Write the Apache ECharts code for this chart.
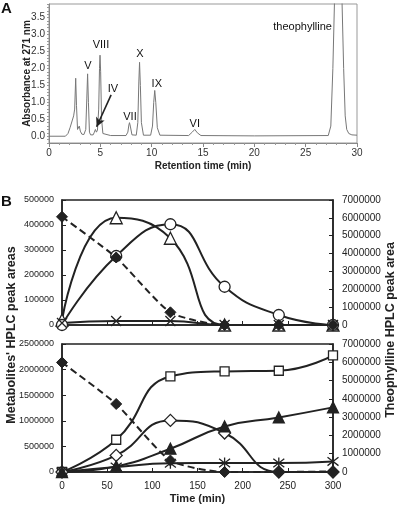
<!DOCTYPE html>
<html><head><meta charset="utf-8">
<script src="https://cdn.jsdelivr.net/npm/echarts@6/dist/echarts.min.js"></script>
<style>html,body{margin:0;padding:0;background:#fff}#c{width:400px;height:506px}</style>
</head><body><div id="c"></div>
<script>
// ---- Panel A: chromatogram (retention time, min / absorbance at 271 nm) ----
const chromTime = [0, 1.6, 1.85, 2.05, 2.25, 2.4, 2.5, 2.6, 2.68, 2.78, 2.88, 2.95, 3.05, 3.2, 3.4, 3.58, 3.68, 3.76, 3.84, 3.94, 4.05, 4.3, 4.42, 4.52, 4.62, 4.72, 4.84, 4.92, 4.97, 5.03, 5.12, 5.25, 5.4, 6.0, 7.5, 7.68, 7.78, 7.84, 7.92, 8.08, 8.5, 8.65, 8.75, 8.82, 8.9, 9.0, 9.2, 9.9, 10.08, 10.2, 10.3, 10.4, 10.55, 10.8, 13.6, 13.95, 14.2, 14.45, 14.8, 20, 27.2, 27.45, 27.65, 27.85, 28.15, 28.5, 28.7, 28.85, 29.0, 29.2, 29.5, 30];
const chromAbs  = [0, 0, 0.08, 0.25, 0.45, 0.6, 0.8, 1.71, 0.9, 0.2, 0.22, 0.3, 0.15, 0.06, 0.05, 0.2, 1.1, 1.84, 1.0, 0.12, 0.04, 0.04, 0.12, 0.2, 0.12, 0.18, 0.8, 2.0, 2.39, 1.9, 0.5, 0.08, 0.03, 0.02, 0.02, 0.12, 0.33, 0.4, 0.3, 0.04, 0.03, 0.4, 1.6, 2.18, 1.5, 0.4, 0.03, 0.03, 0.3, 1.0, 1.35, 1.0, 0.25, 0.03, 0.02, 0.12, 0.2, 0.1, 0.02, 0.01, 0.02, 0.3, 2.0, 4.5, 6.0, 4.5, 2.0, 0.6, 0.2, 0.08, 0.04, 0.03];
const peakNames     = ['V', 'VIII', 'IV', 'VII', 'X', 'IX', 'VI', 'theophylline'];
const peakLabelTime = [3.8, 5.06, 6.23, 7.89, 8.86, 10.5, 14.2, 24.7];
const peakLabelAbs  = [2.07, 2.69, 1.39, 0.57, 2.42, 1.54, 0.36, 3.22];
const arrowFrom = [6.05, 1.22];
const arrowTo   = [4.64, 0.28];

// ---- Panel B: peak areas vs time (min) ----
const times = [0, 60, 120, 180, 240, 300];
// upper plot
const theoTop    = [6060000, 3780000, 710000, 0, 0, 0];   // right axis, filled diamond, dashed
const triOpenTop = [20000, 429000, 347000, 0, 0, 0];
const circleTop  = [0, 276000, 403000, 153000, 40000, 0];
const crossTop   = [8000, 16000, 16000, 0, 0, 0];
// lower plot
const theoBot     = [5990000, 3720000, 630000, 0, 0, 30000]; // right axis
const squareBot   = [0, 630000, 1867000, 1965000, 1978000, 2277000];
const diaOpenBot  = [0, 324000, 1008000, 762000, 0, 0];
const triFillBot  = [0, 110000, 455000, 890000, 1066000, 1262000];
const starBot     = [0, 98000, 170000, 176000, 176000, 207000];

const pairs = (xs, ys) => xs.map((x, i) => [x, ys[i]]);
const FONT = 'Liberation Sans, Arial, sans-serif';
const INK = '#222';
const CROSS = 'path://M0,0L10,10M10,0L0,10';
const STAR = 'path://M0,0L10,10M10,0L0,10M5,-1.5L5,11.5';

function metSeries(data, x, y, symbol, size, filled) {
  return {
    type: 'line', xAxisIndex: x, yAxisIndex: y, data: data,
    smooth: 0.5, smoothConstraint: false, symbol: symbol, symbolSize: size, showSymbol: true,
    lineStyle: { color: INK, width: 2 },
    itemStyle: { color: filled ? INK : '#fff', borderColor: INK, borderWidth: 1.3 },
    z: 3, animation: false
  };
}
function theoSeries(data, x, y) {
  return {
    type: 'line', xAxisIndex: x, yAxisIndex: y, data: data,
    smooth: 0.2, symbol: 'diamond', symbolSize: 11,
    lineStyle: { color: INK, width: 2, type: [7, 4] },
    itemStyle: { color: INK, borderColor: INK, borderWidth: 1 },
    z: 4, animation: false
  };
}
const lblL = { color: INK, fontSize: 9, fontFamily: FONT, margin: 8, formatter: v => String(v) };
const lblR = { color: INK, fontSize: 10, fontFamily: FONT, margin: 9, formatter: v => String(v) };
const axLineB = { show: true, onZero: false, lineStyle: { color: INK, width: 1.5 } };
const tickIn = { show: true, inside: true, length: 4, lineStyle: { color: INK } };

const chart = echarts.init(document.getElementById('c'), null, { renderer: 'canvas' });
chart.setOption({
  animation: false,
  backgroundColor: '#fff',
  grid: [
    { left: 49, top: 4, width: 308, height: 139, show: true, borderColor: '#999', borderWidth: 1 },
    { left: 62, top: 200, width: 271, height: 125, show: true, borderColor: INK, borderWidth: 1.5 },
    { left: 62, top: 344, width: 271, height: 128, show: true, borderColor: INK, borderWidth: 1.5 }
  ],
  xAxis: [
    { gridIndex: 0, type: 'value', min: 0, max: 30, interval: 5,
      name: 'Retention time (min)', nameLocation: 'middle', nameGap: 18, nameMoveOverlap: false,
      nameTextStyle: { fontSize: 10, fontWeight: 'bold', color: INK, fontFamily: FONT },
      axisLine: { onZero: false, lineStyle: { color: '#888', width: 1 } },
      axisTick: { show: true, length: 4, lineStyle: { color: '#888' } },
      minorTick: { show: true, splitNumber: 5, length: 2, lineStyle: { color: '#999' } },
      axisLabel: { color: '#333', fontSize: 10, fontFamily: FONT, margin: 5 },
      splitLine: { show: false } },
    { gridIndex: 1, type: 'value', min: 0, max: 300, interval: 50,
      axisLine: axLineB, axisTick: tickIn, axisLabel: { show: false }, splitLine: { show: false } },
    { gridIndex: 2, type: 'value', min: 0, max: 300, interval: 50,
      name: 'Time (min)', nameLocation: 'middle', nameGap: 21, nameMoveOverlap: false,
      nameTextStyle: { fontSize: 11, fontWeight: 'bold', color: INK, fontFamily: FONT },
      axisLine: axLineB, axisTick: tickIn,
      axisLabel: { color: INK, fontSize: 10, fontFamily: FONT, margin: 9 }, splitLine: { show: false } }
  ],
  yAxis: [
    { gridIndex: 0, type: 'value', min: -0.2, max: 3.9, interval: 0.1,
      name: 'Absorbance at 271 nm', nameLocation: 'middle', nameGap: 17, nameRotate: 90, nameMoveOverlap: false,
      nameTextStyle: { fontSize: 10, fontWeight: 'bold', color: INK, fontFamily: FONT },
      axisLine: { show: true, onZero: false, lineStyle: { color: '#888', width: 1 } },
      axisTick: { show: true, length: 2, lineStyle: { color: '#999' } },
      axisLabel: { color: '#333', fontSize: 10, fontFamily: FONT, margin: 4,
        formatter: v => (v >= -1e-6 && Math.abs(v * 2 - Math.round(v * 2)) < 1e-6) ? Math.abs(v).toFixed(1) : '' },
      splitLine: { show: false } },
    { gridIndex: 1, type: 'value', min: 0, max: 500000, interval: 100000,
      axisLine: axLineB, axisTick: tickIn, axisLabel: lblL, splitLine: { show: false } },
    { gridIndex: 1, type: 'value', position: 'right', min: 0, max: 7000000, interval: 1000000,
      axisLine: axLineB, axisTick: tickIn, axisLabel: lblR, splitLine: { show: false } },
    { gridIndex: 2, type: 'value', min: 0, max: 2500000, interval: 500000,
      axisLine: axLineB, axisTick: tickIn, axisLabel: lblL, splitLine: { show: false } },
    { gridIndex: 2, type: 'value', position: 'right', min: 0, max: 7000000, interval: 1000000,
      axisLine: axLineB, axisTick: tickIn, axisLabel: lblR, splitLine: { show: false } }
  ],
  graphic: [
    { type: 'text', x: 1, y: 1, style: { text: 'A', font: 'bold 15px ' + FONT, fill: '#111' } },
    { type: 'text', x: 1, y: 194, style: { text: 'B', font: 'bold 15px ' + FONT, fill: '#111' } },
    { type: 'text', x: 12, y: 335, rotation: Math.PI / 2,
      style: { text: "Metabolites' HPLC peak areas", font: 'bold 12.5px ' + FONT, fill: INK, align: 'center', verticalAlign: 'middle' } },
    { type: 'text', x: 391, y: 330, rotation: Math.PI / 2,
      style: { text: 'Theophylline HPLC peak area', font: 'bold 12.5px ' + FONT, fill: INK, align: 'center', verticalAlign: 'middle' } }
  ],
  series: [
    { type: 'line', xAxisIndex: 0, yAxisIndex: 0, data: pairs(chromTime, chromAbs),
      showSymbol: false, symbol: 'none', clip: true,
      lineStyle: { color: '#777', width: 1 }, z: 2 },
    { type: 'scatter', xAxisIndex: 0, yAxisIndex: 0,
      data: peakNames.map((n, i) => [peakLabelTime[i], peakLabelAbs[i], n]),
      symbolSize: 1, itemStyle: { color: 'transparent', opacity: 1 },
      label: { show: true, position: 'inside', color: '#111', opacity: 1, textBorderWidth: 0,
        fontFamily: FONT, fontSize: 11, formatter: p => p.data[2] },
      markLine: { silent: true, symbol: ['none', 'arrow'], symbolSize: [7, 9],
        label: { show: false }, lineStyle: { color: INK, width: 1.6, type: 'solid' },
        data: [[{ coord: arrowFrom }, { coord: arrowTo }]] },
      z: 5 },
    theoSeries(pairs(times, theoTop), 1, 2),
    metSeries(pairs(times, triOpenTop), 1, 1, 'triangle', 12, false),
    metSeries(pairs(times, circleTop), 1, 1, 'circle', 11, false),
    metSeries(pairs(times, crossTop), 1, 1, CROSS, 10, false),
    theoSeries(pairs(times, theoBot), 2, 4),
    metSeries(pairs(times, squareBot), 2, 3, 'rect', 9, false),
    metSeries(pairs(times, diaOpenBot), 2, 3, 'diamond', 12, false),
    metSeries(pairs(times, triFillBot), 2, 3, 'triangle', 11, true),
    metSeries(pairs(times, starBot), 2, 3, STAR, 11, false)
  ]
});
</script></body></html>
